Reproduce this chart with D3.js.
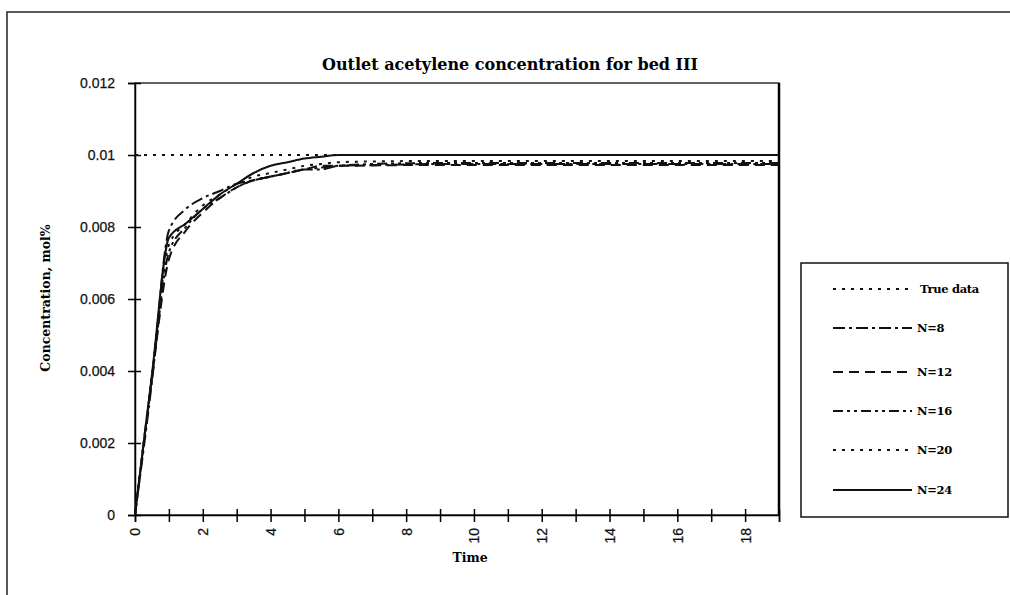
<!DOCTYPE html>
<html>
<head>
<meta charset="utf-8">
<script src="https://cdn.jsdelivr.net/npm/d3@7"></script>
<style>
  body { margin: 0; background: #fff; }
  .tick text { font-family: "Liberation Sans", Arial, sans-serif; font-size: 14px; fill: #111; stroke: #111; stroke-width: 0.25; }
</style>
</head>
<body>
<svg id="chart" width="1010" height="595"></svg>
<script>
const times = [0, 0.5, 1, 1.5, 2, 2.5, 3, 3.5, 4, 4.5, 5, 5.5, 6, 7, 8, 9, 10, 11, 12, 13, 14, 15, 16, 17, 18, 19];

const trueData = [0.01, 0.01, 0.01, 0.01, 0.01, 0.01, 0.01, 0.01, 0.01, 0.01, 0.01, 0.01, 0.01, 0.01, 0.01, 0.01, 0.01, 0.01, 0.01, 0.01, 0.01, 0.01, 0.01, 0.01, 0.01, 0.01];
const n8  = [0, 0.0037, 0.0079, 0.0085, 0.0088, 0.0090, 0.0092, 0.0093, 0.0094, 0.0095, 0.0096, 0.0096, 0.0097, 0.00972, 0.00974, 0.00975, 0.00975, 0.00975, 0.00975, 0.00975, 0.00975, 0.00975, 0.00975, 0.00975, 0.00975, 0.00975];
const n12 = [0, 0.0038, 0.0071, 0.0079, 0.0084, 0.0088, 0.0091, 0.0093, 0.0094, 0.0095, 0.0096, 0.0097, 0.0097, 0.00971, 0.00972, 0.00972, 0.00972, 0.00972, 0.00972, 0.00972, 0.00972, 0.00972, 0.00972, 0.00972, 0.00972, 0.00972];
const n16 = [0, 0.0038, 0.0073, 0.0080, 0.0085, 0.0088, 0.0091, 0.0093, 0.0094, 0.0095, 0.0096, 0.00965, 0.0097, 0.00975, 0.00977, 0.00978, 0.00978, 0.00978, 0.00978, 0.00978, 0.00978, 0.00978, 0.00978, 0.00978, 0.00978, 0.00978];
const n20 = [0, 0.0039, 0.0075, 0.0081, 0.0086, 0.0089, 0.0092, 0.0094, 0.0095, 0.0096, 0.0097, 0.00975, 0.0098, 0.00982, 0.00983, 0.00983, 0.00983, 0.00983, 0.00983, 0.00983, 0.00983, 0.00983, 0.00983, 0.00983, 0.00983, 0.00983];
const n24 = [0, 0.0039, 0.0077, 0.0081, 0.0085, 0.0089, 0.0092, 0.0095, 0.0097, 0.0098, 0.0099, 0.00995, 0.01, 0.01, 0.01, 0.01, 0.01, 0.01, 0.01, 0.01, 0.01, 0.01, 0.01, 0.01, 0.01, 0.01];

const seriesNames = ["True data", "N=8", "N=12", "N=16", "N=20", "N=24"];
const seriesValues = [trueData, n8, n12, n16, n20, n24];
const seriesDash = ["3,6", "12,4,3,4", "10,6", "10,4,3,4,3,4", "3,6", null];

const xTickValues = [0, 1, 2, 3, 4, 5, 6, 7, 8, 9, 10, 11, 12, 13, 14, 15, 16, 17, 18, 19];
const xTickLabels = ["0", "", "2", "", "4", "", "6", "", "8", "", "10", "", "12", "", "14", "", "16", "", "18", ""];
const yTickValues = [0, 0.002, 0.004, 0.006, 0.008, 0.01, 0.012];
const yTickLabels = ["0", "0.002", "0.004", "0.006", "0.008", "0.01", "0.012"];

const svg = d3.select("#chart");
const plot = {left: 135, right: 779, top: 83, bottom: 515};
const serif = "'DejaVu Serif', serif";

const x = d3.scaleLinear().domain([0, 19]).range([plot.left, plot.right]);
const y = d3.scaleLinear().domain([0, 0.012]).range([plot.bottom, plot.top]);

// outer frame (only top and left visible)
svg.append("path")
    .attr("d", "M7,595 L7,12 L1010,12")
    .attr("fill", "none")
    .attr("stroke", "#222")
    .attr("stroke-width", 1.5);

// plot area border
svg.append("rect")
    .attr("x", plot.left).attr("y", plot.top)
    .attr("width", plot.right - plot.left).attr("height", plot.bottom - plot.top)
    .attr("fill", "none").attr("stroke", "#111").attr("stroke-width", 1.3);
svg.append("line")
    .attr("x1", plot.right).attr("x2", plot.right)
    .attr("y1", plot.top).attr("y2", plot.bottom)
    .attr("stroke", "#000").attr("stroke-width", 2.5);

// title
svg.append("text")
    .attr("x", 510).attr("y", 70)
    .attr("text-anchor", "middle")
    .attr("font-family", serif).attr("font-weight", "bold").attr("font-size", 16)
    .text("Outlet acetylene concentration for bed III");

// y axis
const yAxis = svg.append("g")
    .attr("transform", "translate(" + plot.left + ",0)")
    .call(d3.axisLeft(y).tickValues(yTickValues).tickSize(7).tickPadding(13)
        .tickFormat((d, i) => yTickLabels[i]));
yAxis.selectAll(".tick line").attr("x1", 6).attr("stroke-width", 1.5);
yAxis.select(".domain").attr("stroke-width", 1.5);

// x axis
const xAxis = svg.append("g")
    .attr("transform", "translate(0," + plot.bottom + ")")
    .call(d3.axisBottom(x).tickValues(xTickValues).tickSize(7)
        .tickFormat((d, i) => xTickLabels[i]));
xAxis.selectAll(".tick line").attr("y1", -6).attr("stroke-width", 1.5);
xAxis.select(".domain").attr("stroke-width", 1.5);
xAxis.selectAll(".tick text")
    .attr("transform", "rotate(-90)")
    .attr("text-anchor", "end")
    .attr("x", -13).attr("y", 0).attr("dy", "0.35em");

// axis titles
svg.append("text")
    .attr("x", 470).attr("y", 562)
    .attr("text-anchor", "middle")
    .attr("font-family", serif).attr("font-weight", "bold").attr("font-size", 12.5)
    .text("Time");
svg.append("text")
    .attr("transform", "translate(50,298) rotate(-90)")
    .attr("text-anchor", "middle")
    .attr("font-family", serif).attr("font-weight", "bold").attr("font-size", 12.5)
    .text("Concentration, mol%");

// curves
const line = d3.line()
    .x((d, i) => x(times[i]))
    .y(d => y(d))
    .curve(d3.curveMonotoneX);

seriesValues.forEach((vals, k) => {
    svg.append("path")
        .datum(vals)
        .attr("d", line)
        .attr("fill", "none")
        .attr("stroke", "#111")
        .attr("stroke-width", k === 0 ? 1.8 : 2)
        .attr("stroke-dasharray", seriesDash[k]);
});

// legend
const legend = svg.append("g");
legend.append("rect")
    .attr("x", 801).attr("y", 263).attr("width", 207).attr("height", 254)
    .attr("fill", "#fff").attr("stroke", "#111").attr("stroke-width", 1.5);
const legendY = [289, 328, 372, 411, 450, 490];
seriesNames.forEach((name, k) => {
    legend.append("line")
        .attr("x1", 833).attr("x2", 912)
        .attr("y1", legendY[k]).attr("y2", legendY[k])
        .attr("stroke", "#111").attr("stroke-width", 2)
        .attr("stroke-dasharray", seriesDash[k]);
    legend.append("text")
        .attr("x", k === 0 ? 920 : 917).attr("y", legendY[k]).attr("dy", "0.35em")
        .attr("font-family", serif).attr("font-weight", "bold").attr("font-size", 11.5)
        .attr("letter-spacing", -0.3)
        .text(name);
});
</script>
</body>
</html>
